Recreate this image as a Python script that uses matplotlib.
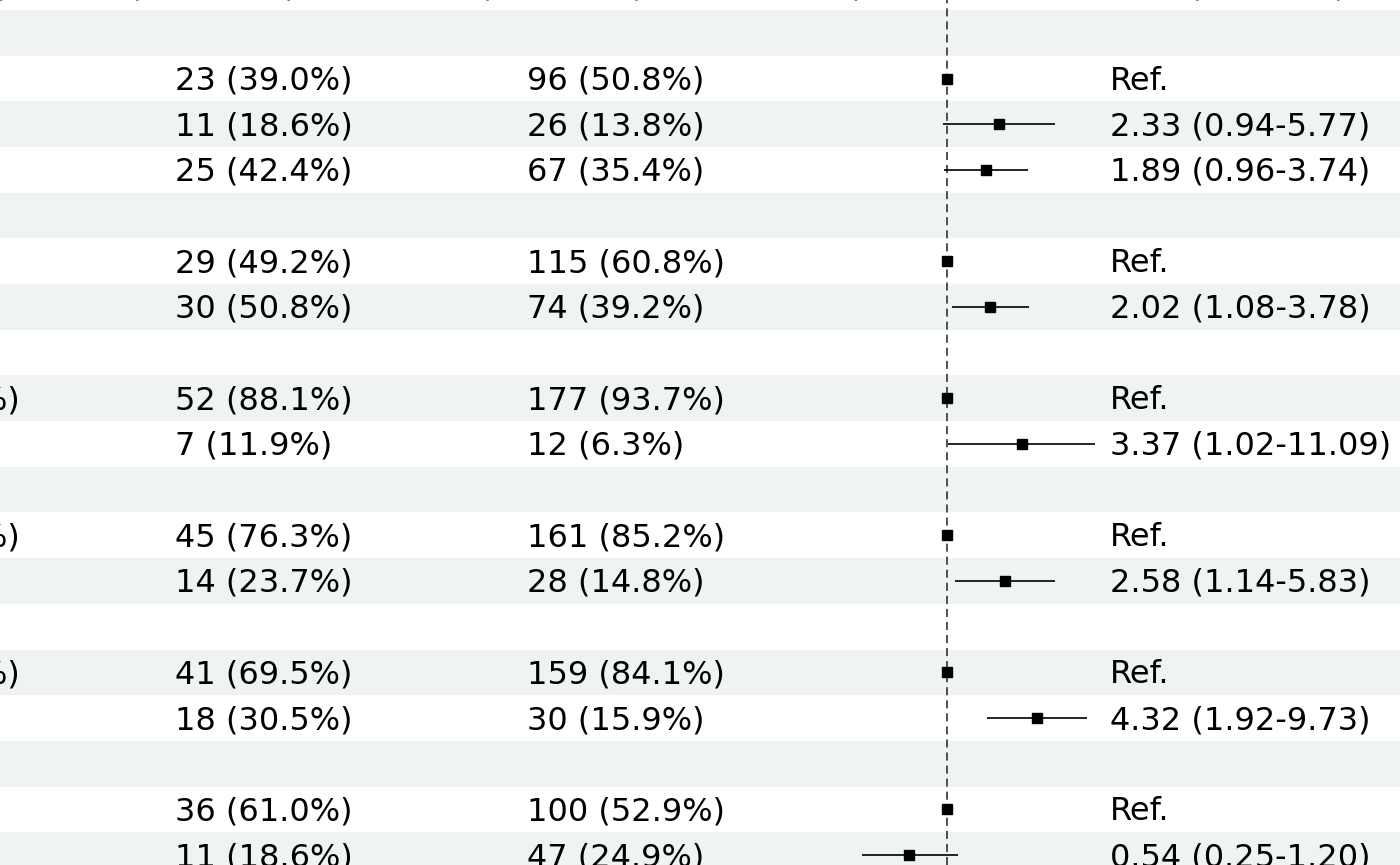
import numpy as np
import matplotlib
matplotlib.use("Agg")
import matplotlib.pyplot as plt

plt.rcParams['font.family'] = ['DejaVu Sans']
plt.rcParams['lines.scale_dashes'] = False

# --- table content (rows top to bottom, group rows are blank) ---
headers = ["Overall (n = 248)", "Cases (n = 59 total)", "Other (n = 189 total)", "AOR (95% C.I.)"]

level_labels = ["", "", "", "", "", "", "", "",
                "Normal (>90%)", "", "", "Normal (>90%)", "", "",
                "Normal (>90%)", "", "", "", ""]

cases = ["", "23 (39.0%)", "11 (18.6%)", "25 (42.4%)",
         "", "29 (49.2%)", "30 (50.8%)",
         "", "52 (88.1%)", "7 (11.9%)",
         "", "45 (76.3%)", "14 (23.7%)",
         "", "41 (69.5%)", "18 (30.5%)",
         "", "36 (61.0%)", "11 (18.6%)"]

controls = ["", "96 (50.8%)", "26 (13.8%)", "67 (35.4%)",
            "", "115 (60.8%)", "74 (39.2%)",
            "", "177 (93.7%)", "12 (6.3%)",
            "", "161 (85.2%)", "28 (14.8%)",
            "", "159 (84.1%)", "30 (15.9%)",
            "", "100 (52.9%)", "47 (24.9%)"]

nan = np.nan
odds = [nan, 1, 2.33, 1.89, nan, 1, 2.02, nan, 1, 3.37, nan, 1, 2.58, nan, 1, 4.32, nan, 1, 0.54]
ci_low = [nan, nan, 0.94, 0.96, nan, nan, 1.08, nan, nan, 1.02, nan, nan, 1.14, nan, nan, 1.92, nan, nan, 0.25]
ci_high = [nan, nan, 5.77, 3.74, nan, nan, 3.78, nan, nan, 11.09, nan, nan, 5.83, nan, nan, 9.73, nan, nan, 1.20]

or_text = ["", "Ref.", "2.33 (0.94-5.77)", "1.89 (0.96-3.74)",
           "", "Ref.", "2.02 (1.08-3.78)",
           "", "Ref.", "3.37 (1.02-11.09)",
           "", "Ref.", "2.58 (1.14-5.83)",
           "", "Ref.", "4.32 (1.92-9.73)",
           "", "Ref.", "0.54 (0.25-1.20)"]

# --- layout (pixels) ---
W, H = 1400, 865
ROW_H = 45.68
TOP = 10.0
STRIPE = '#eff3f2'
FS = 23

n_rows = len(cases)
ylim = ((H - TOP) / ROW_H, -TOP / ROW_H)
rows = np.arange(n_rows) + 0.5
text_y = rows + 2.5 / ROW_H

fig = plt.figure(figsize=(W / 100, H / 100), dpi=100)
ax = fig.add_axes([0, 0, 1, 1])
ax.set_xlim(0, W)
ax.set_ylim(*ylim)
ax.axis('off')

for i in range(n_rows):
    if i % 2 == 0:
        ax.axhspan(i, i + 1, color=STRIPE, lw=0, zorder=0)

# header (cropped above the figure, only paren tails show)
hy = -14.5 / ROW_H
ax.text(146, hy, headers[0], fontsize=FS, ha='right', va='baseline')
ax.text(175, hy, headers[1], fontsize=FS, ha='left', va='baseline')
ax.text(527, hy, headers[2], fontsize=FS, ha='left', va='baseline')
ax.text(1110, hy, headers[3], fontsize=FS, ha='left', va='baseline')

for y, lab, c1, c2, t in zip(text_y, level_labels, cases, controls, or_text):
    ax.text(20, y, lab, fontsize=FS, ha='right', va='center')
    ax.text(175, y, c1, fontsize=FS, ha='left', va='center')
    ax.text(527, y, c2, fontsize=FS, ha='left', va='center')
    ax.text(1110, y, t, fontsize=FS, ha='left', va='center')

# --- forest column on a log scale ---
x0, x1, ref_px, px_per_ln = 855, 1100, 947, 61.5
fax = fig.add_axes([x0 / W, 0, (x1 - x0) / W, 1])
fax.set_xscale('log')
fax.set_xlim(np.exp((x0 - ref_px) / px_per_ln), np.exp((x1 - ref_px) / px_per_ln))
fax.set_ylim(*ylim)
fax.axis('off')
fax.patch.set_alpha(0)

fax.axvline(1, color='#222222', lw=1.1, linestyle=(0, (5.8, 3.6)), zorder=1)
fax.hlines(rows, ci_low, ci_high, color='black', lw=1.2, zorder=2)
fax.plot(odds, rows, 's', color='black', ms=7.0, zorder=3)

fig.savefig('out.png', dpi=100)
